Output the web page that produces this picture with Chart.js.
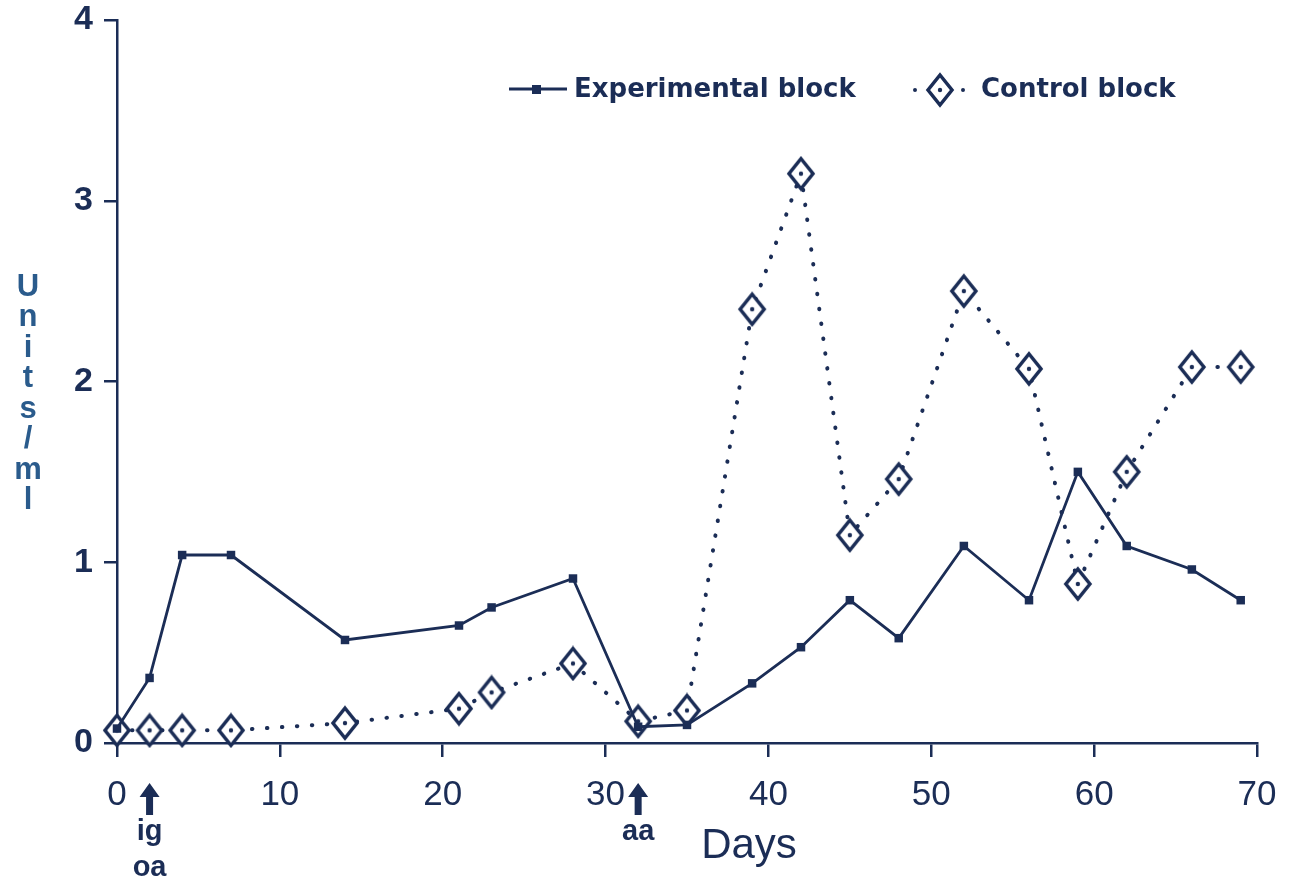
<!DOCTYPE html>
<html>
<head>
<meta charset="utf-8">
<script src="https://cdn.jsdelivr.net/npm/chart.js@4.4.1/dist/chart.umd.min.js"></script>
<style>
    html, body { margin: 0; padding: 0; background: #fff; }
    #caja { width: 1289px; height: 879px; }
</style>
</head>
<body>
<div id="caja"><canvas id="grafica" width="1289" height="879"></canvas></div>
<script>
// #region Datos
var dias = [0, 2, 4, 7, 14, 21, 23, 28, 32, 35, 39, 42, 45, 48, 52, 56, 59, 62, 66, 69];
var experimental = [0.08, 0.36, 1.04, 1.04, 0.57, 0.65, 0.75, 0.91, 0.09, 0.10, 0.33, 0.53, 0.79, 0.58, 1.09, 0.79, 1.50, 1.09, 0.96, 0.79];
var control = [0.07, 0.07, 0.07, 0.07, 0.11, 0.19, 0.28, 0.44, 0.12, 0.18, 2.40, 3.15, 1.15, 1.46, 2.50, 2.07, 0.88, 1.50, 2.08, 2.08];
var ticksX = [0, 10, 20, 30, 40, 50, 60, 70];
var ticksY = [0, 1, 2, 3, 4];
var diasFlecha = [2, 32];
var textosFlecha = [["ig", "oa"], ["aa"]];
var tituloY = "Units/ml";
var tituloX = "Days";
var leyenda = ["Experimental block", "Control block"];

var azul = "#1b2d56";
var azulTitulo = "#2a5b8c";
var fuente = "'Liberation Sans', Arial, sans-serif";

// marcador rombo con punto
function rombo() {
    var c = document.createElement("canvas");
    c.width = 30;
    c.height = 36;
    var g = c.getContext("2d");
    g.beginPath();
    g.moveTo(15, 3);
    g.lineTo(27, 18);
    g.lineTo(15, 33);
    g.lineTo(3, 18);
    g.closePath();
    g.fillStyle = "#fff";
    g.fill();
    g.lineWidth = 3.5;
    g.strokeStyle = azul;
    g.stroke();
    g.beginPath();
    g.arc(15, 18, 2.2, 0, Math.PI * 2);
    g.fillStyle = azul;
    g.fill();
    return c;
}
var marcaRombo = rombo();

function flecha(ctx, x, yTop) {
    ctx.beginPath();
    ctx.moveTo(x, yTop);
    ctx.lineTo(x + 10, yTop + 14);
    ctx.lineTo(x + 3.5, yTop + 14);
    ctx.lineTo(x + 3.5, yTop + 32);
    ctx.lineTo(x - 3.5, yTop + 32);
    ctx.lineTo(x - 3.5, yTop + 14);
    ctx.lineTo(x - 10, yTop + 14);
    ctx.closePath();
    ctx.fill();
}

var extras = {
    id: "extras",
    afterDraw: function (chart) {
        var ctx = chart.ctx;
        var sx = chart.scales.x;
        ctx.save();
        ctx.fillStyle = azul;

        // flechas y textos bajo el eje
        ctx.textAlign = "center";
        ctx.textBaseline = "alphabetic";
        ctx.font = "bold 29px " + fuente;
        for (var i = 0; i < diasFlecha.length; i++) {
            var px = sx.getPixelForValue(diasFlecha[i]);
            flecha(ctx, px, 783);
            for (var j = 0; j < textosFlecha[i].length; j++) {
                ctx.fillText(textosFlecha[i][j], px, 840 + j * 36);
            }
        }

        // titulo eje x
        ctx.font = "42px " + fuente;
        ctx.fillText(tituloX, 749, 858);

        // titulo eje y, letras apiladas
        ctx.fillStyle = azulTitulo;
        ctx.font = "bold 31px " + fuente;
        ctx.textBaseline = "middle";
        for (var k = 0; k < tituloY.length; k++) {
            ctx.fillText(tituloY[k], 28, 287 + k * 30.5);
        }

        // leyenda
        ctx.fillStyle = azul;
        ctx.strokeStyle = azul;
        ctx.lineWidth = 2.8;
        ctx.beginPath();
        ctx.moveTo(509, 89);
        ctx.lineTo(567, 89);
        ctx.stroke();
        ctx.fillRect(532, 85, 9, 9);
        ctx.beginPath();
        ctx.arc(915, 90, 2, 0, Math.PI * 2);
        ctx.arc(963, 90, 2, 0, Math.PI * 2);
        ctx.fill();
        ctx.drawImage(marcaRombo, 925, 72);
        ctx.font = "bold 26px 'DejaVu Sans', sans-serif";
        ctx.textAlign = "left";
        ctx.fillText(leyenda[0], 574, 90);
        ctx.fillText(leyenda[1], 981, 90);
        ctx.restore();
    }
};

var ctx = document.getElementById("grafica").getContext("2d");
var grafica = new Chart(ctx, {
    type: "line",
    data: {
        datasets: [
            {
                label: leyenda[0],
                data: dias.map(function (d, i) { return { x: d, y: experimental[i] }; }),
                borderColor: azul,
                backgroundColor: azul,
                borderWidth: 2.8,
                pointStyle: "rect",
                pointRadius: 6,
                pointBorderWidth: 0,
                tension: 0,
                clip: false,
            },
            {
                label: leyenda[1],
                data: dias.map(function (d, i) { return { x: d, y: control[i] }; }),
                borderColor: azul,
                borderWidth: 4,
                borderDash: [0.5, 14.5],
                borderCapStyle: "round",
                pointStyle: marcaRombo,
                pointRadius: 14,
                tension: 0,
                clip: false,
            },
        ],
    },
    options: {
        responsive: false,
        animation: false,
        events: [],
        layout: {
            padding: { left: 0, top: 20, right: 32, bottom: 0 }
        },
        scales: {
            x: {
                type: "linear",
                min: 0,
                max: 70,
                afterBuildTicks: function (s) { s.ticks = ticksX.map(function (v) { return { value: v }; }); },
                afterFit: function (s) {
                    s.height = 136;
                    s.paddingLeft = 0;
                    s.paddingRight = 0;
                },
                ticks: {
                    color: azul,
                    padding: 17,
                    font: { family: fuente, size: 35 }
                },
                grid: {
                    drawOnChartArea: false,
                    drawTicks: true,
                    tickLength: 14,
                    color: azul,
                    lineWidth: 2.5
                },
                border: { color: azul, width: 2.5 }
            },
            y: {
                min: 0,
                max: 4,
                afterBuildTicks: function (s) { s.ticks = ticksY.map(function (v) { return { value: v }; }); },
                afterFit: function (s) {
                    s.width = 117;
                    s.paddingTop = 0;
                    s.paddingBottom = 0;
                },
                ticks: {
                    color: azul,
                    padding: 11,
                    font: { family: fuente, size: 34, weight: "bold" }
                },
                grid: {
                    drawOnChartArea: false,
                    drawTicks: true,
                    tickLength: 13,
                    color: azul,
                    lineWidth: 2.5
                },
                border: { color: azul, width: 2.5 }
            }
        },
        plugins: {
            legend: { display: false },
            tooltip: { enabled: false }
        }
    },
    plugins: [extras]
});
</script>
</body>
</html>
